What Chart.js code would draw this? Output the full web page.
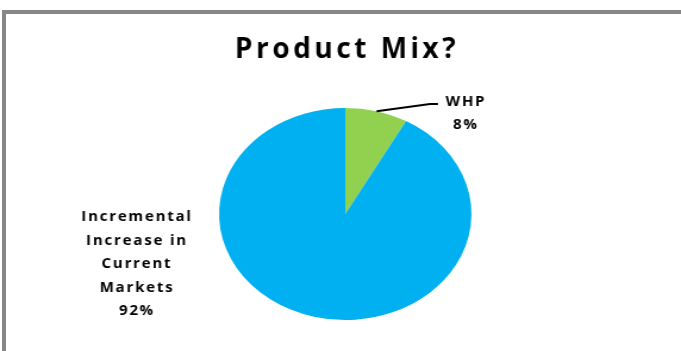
<!DOCTYPE html>
<html>
<head>
<meta charset="utf-8">
<script src="https://cdn.jsdelivr.net/npm/chart.js@4/dist/chart.umd.min.js"></script>
<style>
  html, body { margin: 0; padding: 0; background: #fff; }
  #wrap { position: relative; width: 681px; height: 351px; overflow: hidden; }
  /* frame of the original slide: only top and left edges are visible */
  #frame { position: absolute; left: 2px; top: 10px; width: 700px; height: 400px;
           border-top: 4px solid #878787; border-left: 4px solid #878787; }
  #chart { position: absolute; left: 0; top: 0; }
</style>
</head>
<body>
<div id="wrap">
  <div id="frame"></div>
  <canvas id="chart" width="572" height="351" style="width:681px;height:351px"></canvas>
</div>
<script>
// ---- Data ----
const titleText = "Product Mix?";
const categories = ["WHP", "Incremental Increase in Current Markets"];
const values = [8, 92];
const colors = ["#92D050", "#00B0F0"];

// label text as shown on the slide
const whpLines = ["WHP", "8%"];
const mainLines = ["Incremental", "Increase in", "Current", "Markets", "92%"];

// the pie in the original is an ellipse, so the canvas is stretched sideways
const stretch = 681 / 572;
const font = "'Open Sans', sans-serif";

// ---- Labels drawn unstretched ----
const labelPlugin = {
  id: "slideLabels",
  afterDraw(chart) {
    const ctx = chart.ctx;
    ctx.save();
    ctx.scale(1 / stretch, 1);
    ctx.fillStyle = "#000";
    ctx.textAlign = "center";
    ctx.textBaseline = "alphabetic";

    // title
    ctx.font = "bold 28px " + font;
    ctx.letterSpacing = "3.5px";
    ctx.fillText(titleText, 347, 58);

    // leader line from the middle of the WHP slice
    const arc = chart.getDatasetMeta(0).data[0];
    const mid = (arc.startAngle + arc.endAngle) / 2;
    const ax = (arc.x + Math.cos(mid) * arc.outerRadius) * stretch;
    const ay = arc.y + Math.sin(mid) * arc.outerRadius;
    ctx.strokeStyle = "#000";
    ctx.lineWidth = 2;
    ctx.beginPath();
    ctx.moveTo(ax, ay);
    ctx.lineTo(430, 104);
    ctx.lineTo(438, 104);
    ctx.stroke();

    ctx.font = "bold 15px " + font;
    ctx.letterSpacing = "1.8px";
    ctx.fillText(whpLines[0], 466, 106);
    ctx.fillText(whpLines[1], 466, 129);

    mainLines.forEach((line, i) => {
      ctx.fillText(line, 137, 221 + i * 23.5);
    });
    ctx.restore();
  }
};

new Chart(document.getElementById("chart"), {
  type: "pie",
  data: {
    labels: categories,
    datasets: [{
      data: values,
      backgroundColor: colors,
      borderWidth: 0
    }]
  },
  options: {
    responsive: false,
    animation: false,
    devicePixelRatio: 1,
    layout: { padding: { left: 184, right: 176, top: 108, bottom: 31 } },
    plugins: {
      legend: { display: false },
      title: { display: false },
      tooltip: { enabled: false }
    }
  },
  plugins: [labelPlugin]
});
</script>
</body>
</html>
